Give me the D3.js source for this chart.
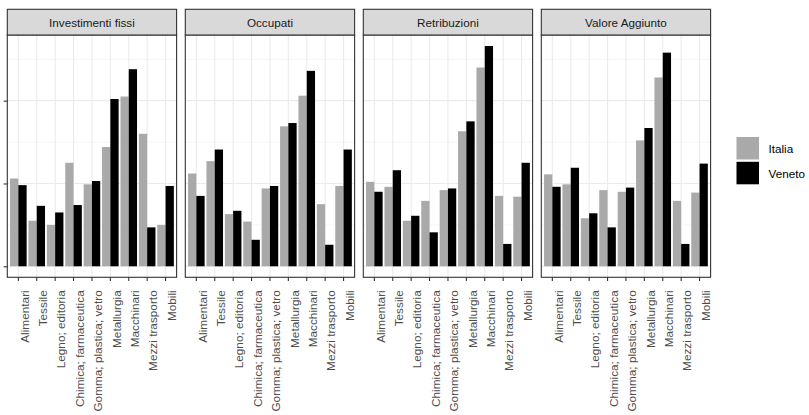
<!DOCTYPE html>
<html>
<head>
<meta charset="utf-8">
<script src="https://cdn.jsdelivr.net/npm/d3@7"></script>
<style>
  html, body { margin: 0; padding: 0; background: #ffffff; }
  svg { display: block; font-family: "Liberation Sans", Arial, Helvetica, sans-serif; }
  .xlab { font-size: 11.8px; font-family: "Liberation Sans", Arial, Helvetica, sans-serif; }
</style>
</head>
<body>
<svg id="chart" width="809" height="415"></svg>
<script>
// ---- data ----
const categories = ["Alimentari", "Tessile", "Legno; editoria", "Chimica; farmaceutica",
  "Gomma; plastica; vetro", "Metallurgia", "Macchinari", "Mezzi trasporto", "Mobili"];
const panelTitles = ["Investimenti fissi", "Occupati", "Retribuzioni", "Valore Aggiunto"];
const seriesNames = ["Italia", "Veneto"];
const seriesColors = ["#A9A9A9", "#000000"];

const investimentiItalia = [1.06, 0.55, 0.50, 1.25, 0.99, 1.44, 2.05, 1.60, 0.50];
const investimentiVeneto = [0.98, 0.73, 0.65, 0.74, 1.03, 2.02, 2.38, 0.47, 0.97];
const occupatiItalia = [1.12, 1.27, 0.63, 0.54, 0.94, 1.69, 2.06, 0.75, 0.97];
const occupatiVeneto = [0.85, 1.41, 0.67, 0.32, 0.97, 1.73, 2.36, 0.26, 1.41];
const retribuzioniItalia = [1.02, 0.96, 0.55, 0.79, 0.92, 1.63, 2.40, 0.85, 0.84];
const retribuzioniVeneto = [0.90, 1.16, 0.61, 0.41, 0.94, 1.75, 2.66, 0.27, 1.25];
const valoreItalia = [1.11, 0.99, 0.58, 0.92, 0.90, 1.52, 2.28, 0.79, 0.89];
const valoreVeneto = [0.96, 1.19, 0.64, 0.47, 0.95, 1.67, 2.58, 0.27, 1.24];

const yTicks = [0, 1, 2];
const yTickLabels = ["", "", ""];
const yMinorTicks = [0.5, 1.5, 2.5];

const panelSeries = [
  [investimentiItalia, investimentiVeneto],
  [occupatiItalia, occupatiVeneto],
  [retribuzioniItalia, retribuzioniVeneto],
  [valoreItalia, valoreVeneto]
];

// ---- layout ----
const svg = d3.select("#chart");
const panelLeft0 = 7.3, panelStep = 178, panelW = 169.3;
const stripTop = 9.3, panelTop = 35, panelBottom = 277.3;
const border = "#333333", grid = "#EBEBEB";

const allVals = panelSeries.flat(2);
const yMax = d3.max(allVals), yMin = 0;
const span = yMax - yMin;
const y = d3.scaleLinear().domain([yMin - 0.05 * span, yMax + 0.05 * span]).range([panelBottom, panelTop]);

const color = d3.scaleOrdinal().domain(seriesNames).range(seriesColors);

panelTitles.forEach((title, p) => {
  const x0 = panelLeft0 + p * panelStep;
  const g = svg.append("g").attr("transform", `translate(${x0},0)`);
  const x = d3.scaleBand().domain(categories).range([0, panelW]).paddingInner(0.1).paddingOuter(0.15);
  const xs = d3.scaleBand().domain(seriesNames).range([0, x.bandwidth()]).padding(0);

  g.append("rect").attr("x", 0).attr("y", panelTop).attr("width", panelW)
    .attr("height", panelBottom - panelTop).attr("fill", "#fff");

  g.selectAll(".ymin").data(yMinorTicks).join("line")
    .attr("x1", 0).attr("x2", panelW)
    .attr("y1", d => y(d)).attr("y2", d => y(d))
    .attr("stroke", grid).attr("stroke-width", 0.55);
  g.selectAll(".ymaj").data(yTicks).join("line")
    .attr("x1", 0).attr("x2", panelW)
    .attr("y1", d => y(d)).attr("y2", d => y(d))
    .attr("stroke", grid).attr("stroke-width", 1.1);
  g.selectAll(".xmaj").data(categories).join("line")
    .attr("x1", d => x(d) + x.bandwidth() / 2).attr("x2", d => x(d) + x.bandwidth() / 2)
    .attr("y1", panelTop).attr("y2", panelBottom)
    .attr("stroke", grid).attr("stroke-width", 1.1);

  const rows = [];
  seriesNames.forEach((s, si) => {
    categories.forEach((c, ci) => rows.push({ c, s, v: panelSeries[p][si][ci] }));
  });
  g.selectAll(".bar").data(rows).join("rect")
    .attr("x", d => x(d.c) + xs(d.s))
    .attr("width", xs.bandwidth())
    .attr("y", d => y(d.v))
    .attr("height", d => y(0) - y(d.v))
    .attr("fill", d => color(d.s));

  g.append("rect").attr("x", 0).attr("y", panelTop).attr("width", panelW)
    .attr("height", panelBottom - panelTop).attr("fill", "none")
    .attr("stroke", border).attr("stroke-width", 1.1);

  g.append("rect").attr("x", 0).attr("y", stripTop).attr("width", panelW)
    .attr("height", panelTop - stripTop).attr("fill", "#D9D9D9")
    .attr("stroke", border).attr("stroke-width", 1.1);
  g.append("text").attr("x", panelW / 2).attr("y", (stripTop + panelTop) / 2)
    .attr("text-anchor", "middle").attr("dominant-baseline", "central")
    .style("font-size", "11.7px").attr("fill", "#1A1A1A").text(title);

  const ax = g.append("g").attr("transform", `translate(0,${panelBottom})`)
    .call(d3.axisBottom(x).tickSize(3.7).tickPadding(3).tickSizeOuter(0));
  ax.attr("font-size", null).attr("font-family", null);
  ax.select(".domain").remove();
  ax.selectAll(".tick line").attr("stroke", border).attr("stroke-width", 1.1);
  ax.selectAll(".tick text")
    .attr("class", "xlab")
    .attr("transform", "rotate(-90)")
    .attr("x", -13).attr("y", 0).attr("dy", 10.3)
    .attr("text-anchor", "end")
    .attr("fill", "#4D4D4D");

  if (p === 0) {
    const ay = g.append("g")
      .call(d3.axisLeft(y).tickValues(yTicks).tickSize(3.7)
        .tickFormat((d, i) => yTickLabels[i]).tickSizeOuter(0));
    ay.select(".domain").remove();
    ay.selectAll(".tick line").attr("stroke", border).attr("stroke-width", 1.1);
  }
});

const leg = svg.append("g").attr("transform", "translate(736.5,137)");
seriesNames.forEach((s, i) => {
  leg.append("rect").attr("x", 0).attr("y", i * 24.8).attr("width", 22.5).attr("height", 22.5)
    .attr("fill", color(s));
  leg.append("text").attr("x", 32).attr("y", i * 24.8 + 11.5)
    .attr("dominant-baseline", "central").style("font-size", "11.7px")
    .attr("fill", "#000").text(s);
});
</script>
</body>
</html>
